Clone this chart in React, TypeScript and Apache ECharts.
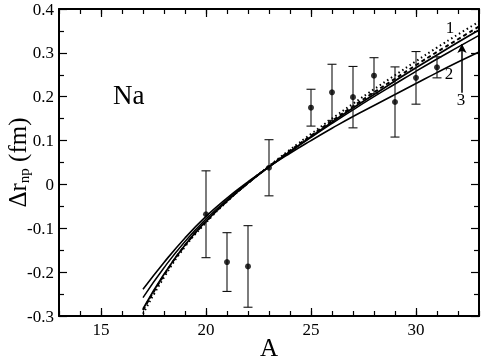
import React, { useEffect, useRef } from 'react';
import * as echarts from 'echarts';

// mass numbers at which the model curves are read
const curveA = [17, 18, 19, 20, 21, 22, 23, 24, 25, 26, 27, 28, 29, 30, 31, 32, 33];
// curve 1 (dotted)
const curveDotted = [-0.295, -0.212, -0.142, -0.087, -0.039, 0.003, 0.042, 0.079, 0.115, 0.150, 0.184, 0.217, 0.249, 0.281, 0.312, 0.342, 0.371];
// dashed curve
const curveDashed = [-0.287, -0.207, -0.139, -0.085, -0.038, 0.003, 0.041, 0.077, 0.111, 0.145, 0.178, 0.210, 0.241, 0.272, 0.302, 0.331, 0.360];
// thick solid curve
const curveSolidA = [-0.284, -0.205, -0.138, -0.084, -0.038, 0.003, 0.040, 0.075, 0.109, 0.142, 0.174, 0.205, 0.236, 0.266, 0.295, 0.324, 0.352];
// curve 3 (thin solid)
const curveSolidB = [-0.258, -0.190, -0.130, -0.079, -0.035, 0.004, 0.040, 0.074, 0.107, 0.139, 0.170, 0.200, 0.229, 0.258, 0.286, 0.313, 0.340];
// curve 2 (flattest solid)
const curveSolid2 = [-0.239, -0.178, -0.122, -0.073, -0.031, 0.006, 0.040, 0.071, 0.100, 0.128, 0.155, 0.180, 0.205, 0.230, 0.255, 0.279, 0.302];

// experimental points
const expA = [20, 21, 22, 23, 25, 26, 27, 28, 29, 30, 31];
const expDrnp = [-0.068, -0.177, -0.187, 0.038, 0.175, 0.210, 0.199, 0.248, 0.188, 0.243, 0.267];
const expErr = [0.099, 0.067, 0.093, 0.064, 0.042, 0.064, 0.070, 0.041, 0.080, 0.060, 0.024];

// axis ticks
const xMajorTicks = [15, 20, 25, 30];

// arrow pointing at curve 3
const arrowA = 32.19;
const arrowFrom = 0.209;
const arrowTo = 0.32;

const serif = 'Liberation Serif';

export default function App() {
  const ref = useRef<HTMLDivElement>(null);
  useEffect(() => {
    const chart = echarts.init(ref.current!, null, { renderer: 'svg' });
    const pairs = (ys: number[]) => curveA.map((a, i) => [a, ys[i]]);
    const black = '#000';
    const xCommon = {
      type: 'value',
      min: 13,
      max: 33,
      splitLine: { show: false },
    };
    const yCommon = {
      type: 'value',
      min: -0.3,
      max: 0.4,
      interval: 0.1,
      splitLine: { show: false },
      axisLine: { show: true, onZero: false, lineStyle: { color: black, width: 2 } },
      axisTick: { show: true, inside: true, length: 8, lineStyle: { color: black, width: 1.2 } },
      minorTick: { show: true, splitNumber: 2, length: 5, lineStyle: { color: black, width: 1.2 } },
    };
    chart.setOption({
      animation: false,
      grid: { left: 59, top: 9, right: 2, bottom: 43, containLabel: false, outerBoundsMode: 'none' },
      xAxis: [
        {
          ...xCommon,
          position: 'bottom',
          interval: 1,
          axisLine: { show: true, onZero: false, lineStyle: { color: black, width: 2 } },
          axisTick: { show: true, inside: true, length: 5, lineStyle: { color: black, width: 1.2 } },
          axisLabel: { customValues: xMajorTicks, color: black, fontFamily: serif, fontSize: 17, margin: 5 },
          name: 'A',
          nameLocation: 'middle',
          nameGap: 19,
          nameMoveOverlap: false,
          nameTextStyle: { fontFamily: serif, fontSize: 25, color: black },
        },
        {
          ...xCommon,
          position: 'bottom',
          axisLine: { show: false, onZero: false },
          axisTick: { show: true, inside: true, length: 8, customValues: xMajorTicks, lineStyle: { color: black, width: 1.2 } },
          axisLabel: { show: false },
        },
        {
          ...xCommon,
          position: 'top',
          interval: 1,
          axisLine: { show: true, onZero: false, lineStyle: { color: black, width: 2 } },
          axisTick: { show: true, inside: true, length: 5, lineStyle: { color: black, width: 1.2 } },
          axisLabel: { show: false },
        },
        {
          ...xCommon,
          position: 'top',
          axisLine: { show: false, onZero: false },
          axisTick: { show: true, inside: true, length: 8, customValues: xMajorTicks, lineStyle: { color: black, width: 1.2 } },
          axisLabel: { show: false },
        },
      ],
      yAxis: [
        {
          ...yCommon,
          position: 'left',
          axisLabel: {
            color: black,
            fontFamily: serif,
            fontSize: 17,
            margin: 5,
            formatter: (v: number) => String(Number(v.toFixed(1))),
          },
          name: '{a|Δr}{b|np}{a| (fm)}',
          nameLocation: 'middle',
          nameGap: 28,
          nameMoveOverlap: false,
          nameTextStyle: {
            color: black,
            fontFamily: serif,
            rich: {
              a: { fontSize: 25, fontFamily: serif, color: black, lineHeight: 28 },
              b: { fontSize: 15, fontFamily: serif, color: black, verticalAlign: 'bottom', lineHeight: 15, padding: [5, 0, 0, 0] },
            },
          },
        },
        {
          ...yCommon,
          position: 'right',
          axisLabel: { show: false },
        },
      ],
      series: [
        {
          type: 'line', data: pairs(curveDotted), smooth: true, showSymbol: false,
          lineStyle: { color: black, width: 2, type: [1.5, 3] },
        },
        {
          type: 'line', data: pairs(curveDashed), smooth: true, showSymbol: false,
          lineStyle: { color: black, width: 2, type: [4, 3] },
        },
        {
          type: 'line', data: pairs(curveSolidA), smooth: true, showSymbol: false,
          lineStyle: { color: black, width: 1.8 },
        },
        {
          type: 'line', data: pairs(curveSolidB), smooth: true, showSymbol: false,
          lineStyle: { color: black, width: 1.5 },
          markLine: {
            silent: true,
            symbol: ['none', 'arrow'],
            symbolSize: [7, 9],
            label: { show: false },
            lineStyle: { color: black, width: 1.5, type: 'solid' },
            data: [[{ coord: [arrowA, arrowFrom] }, { coord: [arrowA, arrowTo] }]],
          },
        },
        {
          type: 'line', data: pairs(curveSolid2), smooth: true, showSymbol: false,
          lineStyle: { color: black, width: 1.6 },
        },
        {
          type: 'custom',
          data: expA.map((a, i) => [a, expDrnp[i], expErr[i]]),
          renderItem: (params: any, api: any) => {
            const x = api.value(0);
            const y = api.value(1);
            const e = api.value(2);
            const top = api.coord([x, y + e]);
            const bot = api.coord([x, y - e]);
            const h = 4.5;
            const st = { stroke: '#111', lineWidth: 1.1 };
            return {
              type: 'group',
              children: [
                { type: 'line', shape: { x1: top[0], y1: top[1], x2: bot[0], y2: bot[1] }, style: st },
                { type: 'line', shape: { x1: top[0] - h, y1: top[1], x2: top[0] + h, y2: top[1] }, style: st },
                { type: 'line', shape: { x1: bot[0] - h, y1: bot[1], x2: bot[0] + h, y2: bot[1] }, style: st },
              ],
            };
          },
          z: 5,
        },
        {
          type: 'scatter',
          data: expA.map((a, i) => [a, expDrnp[i]]),
          symbol: 'circle',
          symbolSize: 6,
          itemStyle: { color: black },
          z: 6,
        },
      ],
      graphic: [
        { type: 'text', x: 113, y: 95, style: { text: 'Na', fontFamily: serif, fontSize: 27, fill: black, verticalAlign: 'middle' } },
        { type: 'text', x: 450, y: 27, style: { text: '1', fontFamily: serif, fontSize: 17, fill: black, align: 'center', verticalAlign: 'middle' } },
        { type: 'text', x: 449, y: 73, style: { text: '2', fontFamily: serif, fontSize: 17, fill: black, align: 'center', verticalAlign: 'middle' } },
        { type: 'text', x: 461, y: 99, style: { text: '3', fontFamily: serif, fontSize: 17, fill: black, align: 'center', verticalAlign: 'middle' } },
      ],
    });
    return () => chart.dispose();
  }, []);
  return <div ref={ref} style={{ position: 'fixed', left: 0, top: 0, width: 481, height: 359 }} />;
}
